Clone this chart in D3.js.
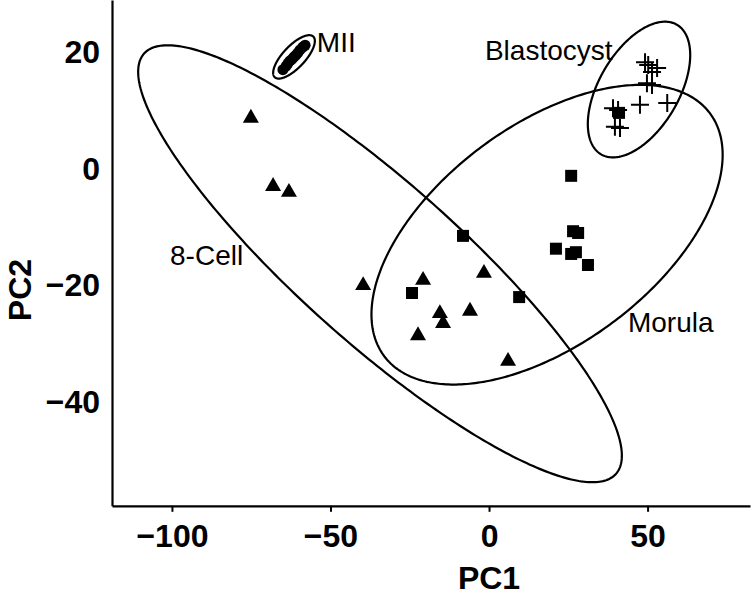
<!DOCTYPE html>
<html><head><meta charset="utf-8">
<script src="https://cdn.jsdelivr.net/npm/d3@7"></script>
<style>
html,body{margin:0;padding:0;background:#fff;}
svg{display:block;}
text{font-family:"Liberation Sans",Arial,Helvetica,sans-serif;fill:#000;}
</style></head>
<body>
<svg id="chart" width="751" height="596"></svg>
<script>
// ---- data ----
const cell8X = [-75.1, -68.1, -63.1, -39.7, -20.8, -1.6, -15.5, -14.5, -6.0, -22.4, 6.0];
const cell8Y = [8.5, -3.2, -4.2, -20.2, -19.3, -18.1, -25.0, -26.7, -24.6, -28.8, -33.2];
const morulaX = [-8.2, -24.3, 9.5, 25.9, 26.5, 28.1, 21.1, 25.9, 27.4, 31.2, 41.0];
const morulaY = [-11.7, -21.5, -22.2, -1.4, -10.9, -11.2, -13.9, -14.8, -14.5, -16.7, 9.4];
const blastX = [49.2, 50.2, 51.4, 53.0, 49.8, 51.4, 39.1, 40.7, 39.7, 41.3, 47.6, 56.2];
const blastY = [18.1, 17.6, 16.4, 17.1, 14.5, 14.2, 10.2, 9.9, 7.0, 6.8, 10.8, 11.1];
const miiX = [-65.0, -64.0, -63.4, -62.8, -62.1, -61.5, -60.9, -60.3, -59.6, -58.7, -58.0];
const miiY = [16.8, 17.4, 17.9, 18.3, 18.6, 19.0, 19.3, 19.7, 20.2, 20.7, 21.0];

// ellipses: centre and two conjugate semi-axis vectors, in data units
const ellipseNames = ["8-Cell", "Morula", "Blastocyst", "MII"];
const ellipseCX = [-34.38, 18.3, 47.3, -61.5];
const ellipseCY = [-16.48, -11.5, 13.4, 19.0];
const ellipseAX = [74.4, 51.4, 12.0, 6.07];
const ellipseAY = [-36.05, 20.8, 11.1, 3.49];
const ellipseBX = [-16.78, 20.6, 10.8, 2.52];
const ellipseBY = [-10.24, -15.1, -3.5, -1.30];

// group labels (start x, baseline y in data units)
const labelText = ["MII", "Blastocyst", "8-Cell", "Morula"];
const labelX = [-54.3, -1.3, -100.6, 43.8];
const labelY = [19.8, 18.5, -16.7, -28.2];

const xTicks = [-100, -50, 0, 50];
const yTicks = [-40, -20, 0, 20];
const xDomain = [-118.9, 82.3];
const yDomain = [-58.0, 28.76];

// ---- drawing ----
const svg = d3.select("#chart");
const x = d3.scaleLinear().domain(xDomain).range([112, 750]);
const y = d3.scaleLinear().domain(yDomain).range([505.8, 0]);
const fmt = d3.format("d");

// ellipses
const line = d3.line().x(d => x(d[0])).y(d => y(d[1])).curve(d3.curveLinearClosed);
ellipseNames.forEach((n, i) => {
  const pts = d3.range(0, 360, 1).map(a => {
    const t = a * Math.PI / 180;
    return [ellipseCX[i] + ellipseAX[i] * Math.cos(t) + ellipseBX[i] * Math.sin(t),
            ellipseCY[i] + ellipseAY[i] * Math.cos(t) + ellipseBY[i] * Math.sin(t)];
  });
  svg.append("path").attr("d", line(pts)).attr("fill", "none")
    .attr("stroke", "#000").attr("stroke-width", 2.2);
});

// MII points
svg.append("g").selectAll("circle").data(miiX.map((v, i) => [v, miiY[i]])).join("circle")
  .attr("cx", d => x(d[0])).attr("cy", d => y(d[1])).attr("r", 5.5)
  .attr("fill", "#000");

// 8-cell triangles
svg.append("g").selectAll("path").data(cell8X.map((v, i) => [v, cell8Y[i]])).join("path")
  .attr("d", d3.symbol(d3.symbolTriangle, 111))
  .attr("transform", d => `translate(${x(d[0])},${y(d[1])})`).attr("fill", "#000");

// morula squares
svg.append("g").selectAll("path").data(morulaX.map((v, i) => [v, morulaY[i]])).join("path")
  .attr("d", d3.symbol(d3.symbolSquare, 144))
  .attr("transform", d => `translate(${x(d[0])},${y(d[1])})`).attr("fill", "#000");

// blastocyst plus signs
svg.append("g").selectAll("path").data(blastX.map((v, i) => [v, blastY[i]])).join("path")
  .attr("d", "M-9,0H9M0,-9V9")
  .attr("transform", d => `translate(${x(d[0])},${y(d[1])})`)
  .attr("stroke", "#000").attr("stroke-width", 2).attr("fill", "none");

// labels
svg.append("g").selectAll("text").data(labelText).join("text")
  .attr("x", (d, i) => x(labelX[i])).attr("y", (d, i) => y(labelY[i]))
  .attr("font-size", 28).text(d => d);

// axes
const xAxis = d3.axisBottom(x).tickValues(xTicks).tickFormat(fmt).tickSize(6).tickSizeOuter(0);
const gx = svg.append("g").attr("transform", `translate(0,${y(yDomain[0])})`).call(xAxis);
gx.select(".domain").attr("stroke-width", 2.2);
gx.selectAll(".tick line").attr("stroke-width", 2);
gx.selectAll(".tick text").attr("font-size", 32).attr("font-weight", "bold")
  .attr("font-family", "'Liberation Sans',Arial,sans-serif").attr("dy", 0).attr("y", 41);

const yAxis = d3.axisLeft(y).tickValues(yTicks).tickFormat(fmt).tickSize(0).tickSizeOuter(0);
const gy = svg.append("g").attr("transform", `translate(${x(xDomain[0])},0)`).call(yAxis);
gy.select(".domain").attr("stroke-width", 2.2);
gy.selectAll(".tick text").attr("font-size", 32).attr("font-weight", "bold")
  .attr("font-family", "'Liberation Sans',Arial,sans-serif").attr("x", -12).attr("dy", "0.36em");

// axis titles
svg.append("text").attr("x", x(0)).attr("y", 589).attr("text-anchor", "middle")
  .attr("font-size", 32).attr("font-weight", "bold").text("PC1");
svg.append("text").attr("transform", "translate(31,290) rotate(-90)").attr("text-anchor", "middle")
  .attr("font-size", 32).attr("font-weight", "bold").text("PC2");
</script>
</body></html>
